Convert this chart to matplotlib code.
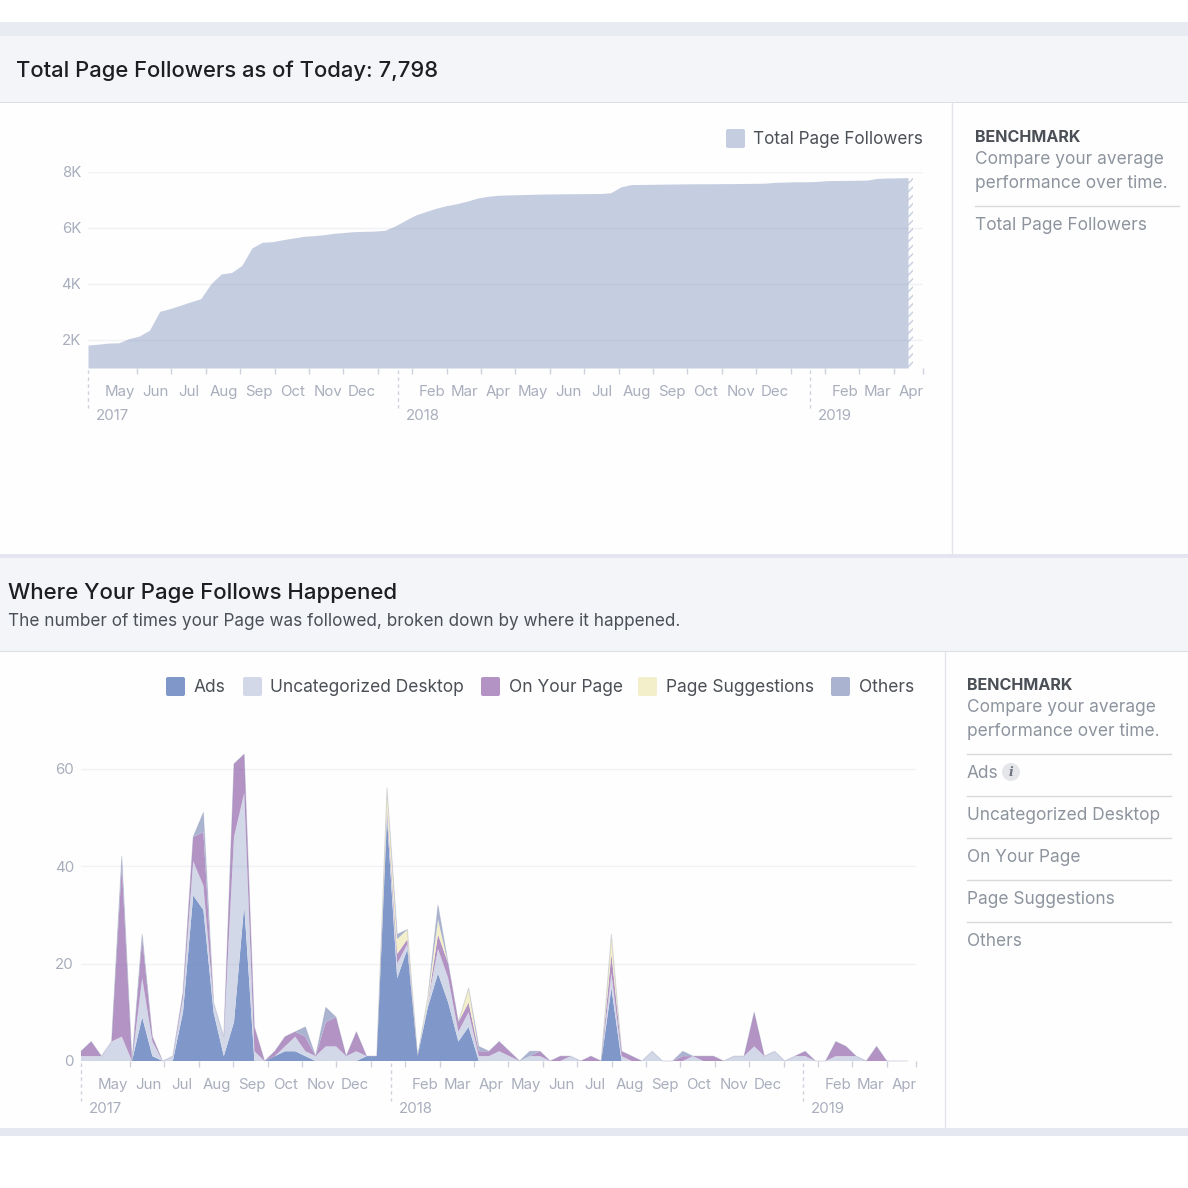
import numpy as np
import matplotlib
matplotlib.use('Agg')
import matplotlib.pyplot as plt
from matplotlib.patches import Rectangle, FancyBboxPatch

plt.rcParams['font.family'] = ['Inter', 'DejaVu Sans']

# followers, one sample every ~10 days
followers = [1820, 1850, 1890, 1900, 2050, 2140, 2350, 3025, 3120, 3240,
             3360, 3475, 4010, 4360, 4410, 4660, 5290, 5490, 5510, 5580,
             5640, 5700, 5725, 5760, 5810, 5840, 5870, 5880, 5890, 5920,
             6080, 6280, 6470, 6590, 6710, 6800, 6870, 6960, 7070, 7130,
             7170, 7180, 7190, 7200, 7210, 7215, 7220, 7225, 7225, 7230,
             7230, 7260, 7470, 7550, 7555, 7560, 7565, 7570, 7575, 7580,
             7580, 7580, 7585, 7585, 7590, 7595, 7600, 7630, 7640, 7650,
             7650, 7660, 7690, 7695, 7700, 7705, 7710, 7770, 7785, 7790, 7798]

ads = [0, 0, 0, 0, 0, 0, 9, 1, 0, 0,
       10, 34, 31, 10, 1, 8, 32, 0, 0, 1,
       2, 2, 1, 0, 0, 0, 0, 0, 1, 1,
       50, 17, 23, 1, 11, 18, 12, 4, 7, 0,
       0, 0, 0, 0, 0, 0, 0, 0, 0, 0,
       0, 0, 15, 0, 0, 0, 0, 0, 0, 0,
       0, 0, 0, 0, 0, 0, 0, 0, 0, 0,
       0, 0, 0, 0, 0, 0, 0, 0, 0, 0, 0, 0]
desktop = [1, 1, 1, 4, 5, 0, 8, 3, 0, 1,
           3, 7, 5, 2, 4, 38, 23, 2, 0, 0,
           1, 3, 1, 1, 3, 3, 1, 2, 0, 0,
           1, 3, 1, 0, 1, 5, 5, 2, 3, 1,
           1, 2, 1, 0, 1, 1, 0, 0, 1, 0,
           0, 0, 3, 1, 0, 0, 2, 0, 0, 0,
           1, 0, 0, 0, 1, 1, 3, 1, 2, 0,
           1, 1, 0, 0, 1, 1, 1, 0, 0, 0, 0, 0]
on_page = [1, 3, 0, 0, 35, 0, 8, 1, 0, 0,
           1, 5, 11, 0, 0, 15, 8, 5, 0, 1,
           2, 1, 3, 0, 5, 6, 0, 4, 0, 0,
           1, 2, 1, 0, 0, 3, 3, 2, 2, 1,
           1, 2, 1, 0, 0, 1, 0, 1, 0, 0,
           1, 0, 4, 1, 1, 0, 0, 0, 0, 1,
           0, 1, 1, 0, 0, 0, 7, 0, 0, 0,
           0, 1, 0, 0, 3, 2, 0, 0, 3, 0, 0, 0]
suggestions = [0, 0, 0, 0, 0, 0, 0, 0, 0, 0,
               0, 0, 0, 0, 0, 0, 0, 0, 0, 0,
               0, 0, 0, 0, 0, 0, 0, 0, 0, 0,
               4, 3, 2, 0, 1, 3, 0, 0, 3, 0,
               0, 0, 0, 0, 0, 0, 0, 0, 0, 0,
               0, 0, 4, 0, 0, 0, 0, 0, 0, 0,
               0, 0, 0, 0, 0, 0, 0, 0, 0, 0,
               0, 0, 0, 0, 0, 0, 0, 0, 0, 0, 0, 0]
others = [0, 0, 0, 0, 2, 0, 1, 0, 0, 0,
          0, 0, 4, 0, 0, 0, 0, 0, 0, 0,
          0, 0, 2, 0, 3, 0, 0, 0, 0, 0,
          0, 1, 0, 0, 0, 3, 0, 0, 0, 1,
          0, 0, 0, 0, 1, 0, 0, 0, 0, 0,
          0, 0, 0, 0, 0, 0, 0, 0, 0, 1,
          0, 0, 0, 0, 0, 0, 0, 0, 0, 0,
          0, 0, 0, 0, 0, 0, 0, 0, 0, 0, 0, 0]

months = ['May', 'Jun', 'Jul', 'Aug', 'Sep', 'Oct', 'Nov', 'Dec', 'Feb', 'Mar', 'Apr',
          'May', 'Jun', 'Jul', 'Aug', 'Sep', 'Oct', 'Nov', 'Dec', 'Feb', 'Mar', 'Apr']
years = ['2017', '2018', '2019']
series_names = ['Ads', 'Uncategorized Desktop', 'On Your Page', 'Page Suggestions', 'Others']
series_colors = ['#7f98c9', '#d3d8e8', '#b392c4', '#f2efca', '#aab4d1']

TEXT_DARK = '#1c1e21'
TEXT_MID = '#4b4f56'
TEXT_GREY = '#8d949e'
TICK_TEXT = '#a9aebd'
TICK_LINE = '#cfd2dc'

W = 1188
fig = plt.figure(figsize=(W / 100, W / 100), dpi=100, facecolor='white')


def add_px_axes(left, top, right, bottom):
    return fig.add_axes([left / W, 1 - bottom / W, (right - left) / W, (bottom - top) / W])


# page background, drawn in pixel coordinates
bg = fig.add_axes([0, 0, 1, 1])
bg.set_xlim(0, W)
bg.set_ylim(W, 0)
bg.axis('off')


def band(top, bottom, color):
    bg.add_patch(Rectangle((0, top), W, bottom - top, color=color, lw=0))


band(22, 36, '#e9ebf3')
band(36, 102, '#f3f5f9')
band(102, 103, '#dcdee6')
band(103, 554, '#fefefe')
band(554, 558, '#e4e5f0')
band(558, 651, '#f3f5f9')
band(651, 652, '#dcdee6')
band(652, 1128, '#fefefe')
band(1128, 1136, '#e6e8f1')
bg.plot([951.5, 951.5], [103, 554], color='#e3e5ea', lw=1)
bg.plot([944.5, 944.5], [652, 1128], color='#e3e5ea', lw=1)

bg.text(15.5, 71, 'Total Page Followers as of Today: 7,798', fontsize=15.85, color=TEXT_DARK,
        fontweight='medium', va='center')
bg.text(8.5, 593, 'Where Your Page Follows Happened', fontsize=16, color=TEXT_DARK,
        fontweight='medium', va='center')
bg.text(8.5, 622, 'The number of times your Page was followed, broken down by where it happened.',
        fontsize=12.35, color=TEXT_MID, va='center')


def swatch(x, y, color):
    bg.add_patch(FancyBboxPatch((x + 2, y + 2), 15, 15, boxstyle='round,pad=2', color=color, lw=0))


# legends
swatch(726, 129, '#c5cde0')
bg.text(753, 140, 'Total Page Followers', fontsize=12.3, color=TEXT_MID, va='center')
legend_swatch_x = [166, 243, 481, 638, 831]
legend_text_x = [194, 270, 509, 666, 859]
for sx, tx, name, col in zip(legend_swatch_x, legend_text_x, series_names, series_colors):
    swatch(sx, 677, col)
    bg.text(tx, 688, name, fontsize=12.5, color=TEXT_MID, va='center')


def sidebar(x, top, names):
    bg.text(x, top + 1, 'BENCHMARK', fontsize=11.6, color=TEXT_MID, fontweight='bold', va='center')
    bg.text(x, top + 23, 'Compare your average', fontsize=12.45, color=TEXT_GREY, va='center')
    bg.text(x, top + 46, 'performance over time.', fontsize=12.45, color=TEXT_GREY, va='center')
    y = top + 68
    for name in names:
        bg.plot([x, x + 204], [y + .5, y + .5], color='#d8dade', lw=1)
        bg.text(x, y + 20, name, fontsize=12.45, color=TEXT_GREY, va='center')
        y += 42


sidebar(975, 137, ['Total Page Followers'])
sidebar(967, 685, series_names)
bg.add_patch(plt.Circle((1011, 772), 9, color='#e4e6ea', lw=0))
bg.text(1011, 772, 'i', fontsize=9, color='#6f7580', style='italic', fontweight='bold',
        family='DejaVu Serif', ha='center', va='center')


def month_axis(ax, base_y):
    ax.set_xlim(0, 835)
    ticks = [49 + 34.4 * k for k in range(23)] + [835]
    ax.set_xticks(ticks)
    ax.set_xticklabels([])
    ax.set_xticks([32, 67, 101, 136, 171, 205, 240, 274, 344, 376, 410,
                   445, 480, 514, 549, 584, 618, 653, 687, 757, 789, 823], minor=True)
    ax.set_xticklabels(months, minor=True)
    ax.tick_params(axis='x', which='major', length=4, width=1, color=TICK_LINE)
    ax.tick_params(axis='x', which='minor', length=0, pad=12.5, labelsize=10.8, labelcolor=TICK_TEXT)
    ax.tick_params(axis='y', length=0, pad=5, labelsize=10.8, labelcolor=TICK_TEXT)
    ax.yaxis.grid(True, color='#7e8aa8', alpha=0.1, lw=1)
    ax.set_axisbelow(False)
    ax.patch.set_alpha(0)
    for s in ax.spines.values():
        s.set_visible(False)
    left = ax.get_position().x0 * W
    for dash, year in zip([0, 310, 722], years):
        bg.plot([left + dash - .5] * 2, [base_y + 2, base_y + 40], color='#cfd2dc', lw=1, ls=(0, (2.5, 2.5)))
        bg.text(left + dash + 7.5, base_y + 48, year, fontsize=10.8, color=TICK_TEXT, va='center')


# top chart
ax1 = add_px_axes(88, 172, 923, 368)
x1 = np.arange(len(followers)) * 10.25
ax1.fill_between(x1, followers, 1000, color='#c5cde0', lw=0)
ax1.fill_between([x1[-1], x1[-1] + 5], [followers[-1]] * 2, 1000, facecolor='none', edgecolor='#c5cde0',
                 hatch='////', lw=0)
ax1.set_ylim(1000, 8000)
ax1.set_yticks([2000, 4000, 6000, 8000])
ax1.set_yticklabels(['2K', '4K', '6K', '8K'])
month_axis(ax1, 368)

# bottom chart
ax2 = add_px_axes(81, 720, 916, 1061)
x2 = np.arange(len(ads)) * 10.2
ax2.stackplot(x2, ads, desktop, on_page, suggestions, others, colors=series_colors, lw=0)
# faint outline along the top of the stack
total = np.sum([ads, desktop, on_page, suggestions, others], axis=0)
ax2.plot(x2, total, color='#8f97b5', alpha=0.35, lw=0.7, clip_on=False)
ax2.set_ylim(0, 70)
ax2.set_yticks([0, 20, 40, 60])
month_axis(ax2, 1061)

fig.savefig('out.png', dpi=100, facecolor='white')
